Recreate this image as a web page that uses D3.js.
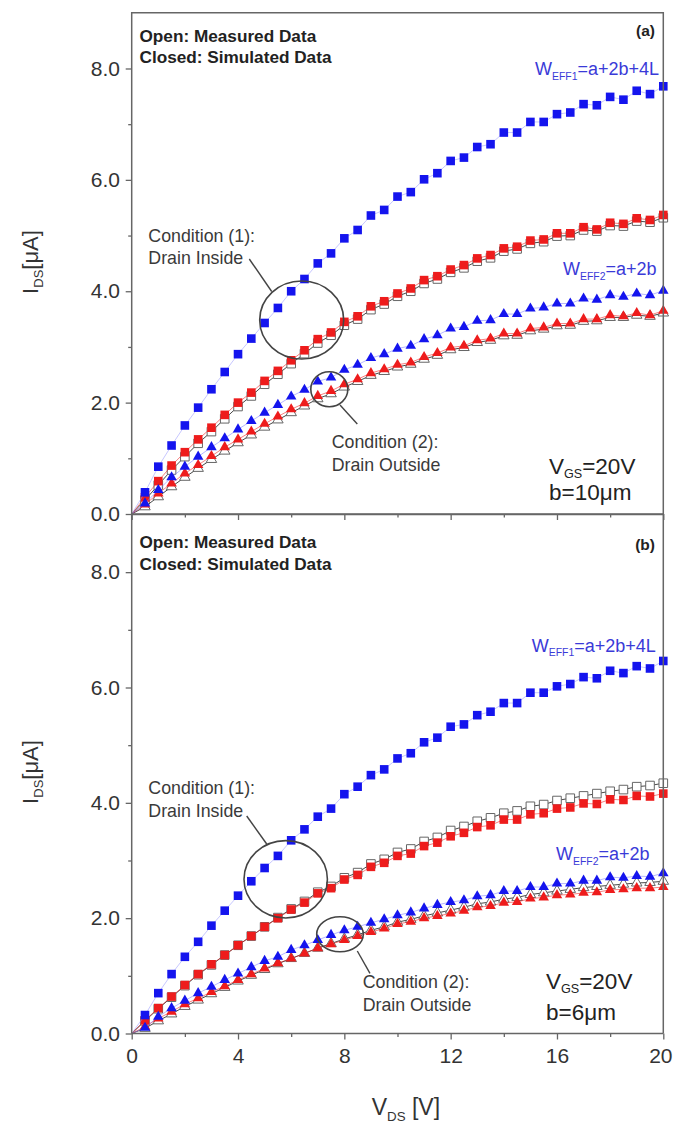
<!DOCTYPE html>
<html><head><meta charset="utf-8">
<script src="https://cdn.jsdelivr.net/npm/d3@7"></script>
<style>body{margin:0;background:#fff}svg{display:block}text{font-family:"Liberation Sans",Arial,sans-serif}</style>
</head><body>
<svg id="c" width="673" height="1138"></svg>
<script>
// ---- data ----
const vds = [0,0.5,1,1.5,2,2.5,3,3.5,4,4.5,5,5.5,6,6.5,7,7.5,8,8.5,9,9.5,10,10.5,11,11.5,12,12.5,13,13.5,14,14.5,15,15.5,16,16.5,17,17.5,18,18.5,19,19.5,20];
const xTicks = [0,4,8,12,16,20];
const yTicks = [0,2,4,6,8];

// panel (a) b=10um
const aSqBlue = [0,0.39,0.85,1.23,1.59,1.91,2.24,2.55,2.87,3.15,3.43,3.70,4.00,4.22,4.50,4.68,4.95,5.10,5.36,5.46,5.70,5.78,6.01,6.12,6.34,6.40,6.59,6.64,6.85,6.85,7.04,7.04,7.18,7.21,7.36,7.34,7.49,7.44,7.60,7.54,7.68];
const aSqRed  = [0,0.30,0.59,0.87,1.11,1.34,1.55,1.78,2.00,2.18,2.39,2.57,2.76,2.94,3.14,3.26,3.45,3.55,3.73,3.82,3.96,4.05,4.20,4.27,4.39,4.47,4.59,4.65,4.77,4.80,4.91,4.93,5.04,5.04,5.15,5.11,5.23,5.21,5.31,5.28,5.37];
const aSqMeas = [0,0.25,0.52,0.79,1.03,1.27,1.48,1.71,1.93,2.12,2.33,2.51,2.70,2.88,3.07,3.21,3.39,3.50,3.67,3.77,3.91,4.00,4.14,4.22,4.34,4.42,4.54,4.60,4.72,4.76,4.86,4.89,4.99,5.00,5.10,5.08,5.18,5.17,5.26,5.24,5.32];
const aTriBlue = [0,0.19,0.43,0.66,0.85,1.03,1.20,1.36,1.52,1.67,1.82,1.96,2.11,2.23,2.38,2.45,2.59,2.68,2.80,2.87,2.97,3.02,3.14,3.21,3.33,3.36,3.47,3.48,3.59,3.59,3.69,3.71,3.78,3.78,3.87,3.85,3.93,3.90,3.96,3.93,4.01];
const aTriRed  = [0,0.17,0.37,0.55,0.73,0.88,1.04,1.20,1.34,1.48,1.62,1.75,1.88,1.99,2.12,2.21,2.33,2.42,2.53,2.60,2.68,2.72,2.82,2.89,2.99,3.02,3.12,3.15,3.24,3.24,3.33,3.35,3.42,3.42,3.50,3.50,3.57,3.55,3.61,3.57,3.65];
const aTriMeas = [0,0.13,0.31,0.49,0.66,0.82,0.98,1.13,1.28,1.42,1.56,1.69,1.82,1.94,2.07,2.16,2.28,2.38,2.49,2.56,2.64,2.69,2.78,2.85,2.95,2.99,3.08,3.12,3.20,3.21,3.29,3.32,3.38,3.39,3.46,3.47,3.53,3.53,3.57,3.55,3.61];

// panel (b) b=6um
const bSqBlue = [0,0.32,0.70,1.03,1.33,1.59,1.87,2.13,2.39,2.64,2.87,3.08,3.35,3.54,3.76,3.90,4.15,4.28,4.48,4.58,4.77,4.86,5.05,5.13,5.32,5.36,5.52,5.58,5.73,5.73,5.91,5.91,6.02,6.06,6.18,6.16,6.29,6.25,6.37,6.33,6.46];
const bSqRed  = [0,0.23,0.44,0.64,0.84,1.03,1.20,1.36,1.53,1.69,1.85,2.00,2.15,2.27,2.43,2.52,2.67,2.75,2.89,2.96,3.08,3.12,3.25,3.31,3.42,3.48,3.58,3.61,3.71,3.71,3.80,3.82,3.90,3.92,3.99,3.98,4.06,4.05,4.12,4.11,4.16];
const bSqMeas = [0,0.22,0.43,0.63,0.83,1.02,1.19,1.36,1.53,1.69,1.85,2.01,2.16,2.29,2.45,2.55,2.70,2.79,2.94,3.02,3.14,3.20,3.33,3.40,3.52,3.59,3.68,3.74,3.82,3.86,3.94,3.97,4.04,4.08,4.12,4.16,4.20,4.23,4.28,4.30,4.34];
const bTriBlue = [0,0.10,0.29,0.44,0.57,0.70,0.81,0.93,1.04,1.15,1.26,1.33,1.45,1.53,1.62,1.71,1.79,1.85,1.92,1.98,2.05,2.10,2.17,2.23,2.28,2.31,2.38,2.40,2.47,2.47,2.54,2.54,2.60,2.60,2.65,2.65,2.71,2.70,2.73,2.72,2.78];
const bTriRed  = [0,0.12,0.26,0.38,0.51,0.61,0.72,0.82,0.93,1.03,1.13,1.22,1.30,1.39,1.48,1.55,1.62,1.69,1.76,1.82,1.90,1.94,2.00,2.04,2.08,2.13,2.19,2.21,2.27,2.28,2.34,2.36,2.40,2.41,2.44,2.45,2.49,2.50,2.52,2.52,2.54];
const bTriMeas = [0,0.09,0.22,0.34,0.47,0.58,0.69,0.80,0.91,1.01,1.11,1.21,1.30,1.39,1.48,1.56,1.64,1.71,1.79,1.85,1.93,1.98,2.04,2.09,2.14,2.19,2.25,2.28,2.33,2.36,2.41,2.44,2.47,2.50,2.53,2.55,2.57,2.59,2.61,2.62,2.64];

// ---- drawing ----
const svg = d3.select("#c");
svg.append("rect").attr("width",673).attr("height",1138).attr("fill","#fff");
const FONT = '"Liberation Sans",Arial,sans-serif';
const AX = "#666", TXT = "#333", BLUE = "#1414ee", RED = "#ee1c1c", LBLUE = "#3a3ad8";
const x = d3.scaleLinear().domain([0,20]).range([131.7,663.3]);

const panels = [
  {y: d3.scaleLinear().domain([0,9]).range([514,12.8]), top:12.8, bottom:514, showX:false,
   sqB:aSqBlue, sqR:aSqRed, sqM:aSqMeas, trB:aTriBlue, trR:aTriRed, trM:aTriMeas,
   tag:"(a)", tagY:36, legY:41.7, w1:[535,75], w2:[563,275], bText:"b=10\u03bcm", vgs:[549,474], bY:499.5,
   c1:{cx:301.7,cy:320,rx:42,ry:39,p:[[249.3,259],[271.7,291.5]],tx:148.3,ty:241.7},
   c2:{cx:329.3,cy:389.3,rx:18.5,ry:17.5,p:[[340,405],[357.3,424]],tx:331.7,ty:448}, titleY:262},
  {y: d3.scaleLinear().domain([0,9]).range([1033.5,514.5]), top:514.5, bottom:1033.5, showX:true,
   sqB:bSqBlue, sqR:bSqRed, sqM:bSqMeas, trB:bTriBlue, trR:bTriRed, trM:bTriMeas,
   tag:"(b)", tagY:550, legY:548.3, w1:[531.7,651.7], w2:[556,860], bText:"b=6\u03bcm", vgs:[546,989], bY:1020,
   c1:{cx:285.7,cy:879.3,rx:41.7,ry:38.7,p:[[246.7,816],[266.7,844]],tx:148.3,ty:794},
   c2:{cx:340,cy:934.2,rx:23.3,ry:17.5,p:[[357.3,951],[370,973.3]],tx:362.7,ty:988.3}, titleY:772}
];

const sq = d3.symbol().type(d3.symbolSquare).size(74);
const tri = d3.symbol().type(d3.symbolTriangle).size(48);

function series(g, y, vals, opts){
  const pts = vds.map((v,i)=>[v, vals[i]]);
  const line = d3.line().x(d=>x(d[0])).y(d=>y(d[1]));
  g.append("path").attr("d", line(pts)).attr("fill","none")
    .attr("stroke", opts.line).attr("stroke-width", opts.lw||0.9).attr("opacity", opts.lo||1);
  g.selectAll(null).data(pts.slice(1)).enter().append("path")
    .attr("d", opts.sym)
    .attr("transform", d=>`translate(${x(d[0])},${y(d[1])})`)
    .attr("fill", opts.fill).attr("stroke", opts.stroke||"none").attr("stroke-width", opts.sw||0);
}

function subText(g, xx, yy, parts, size, fill, anchor, subScale, subDy){
  const t = g.append("text").attr("x",xx).attr("y",yy).attr("fill",fill)
    .attr("font-size",size).attr("text-anchor",anchor||"start");
  const sd = subDy || size*0.25;
  parts.forEach(p=>{
    const s = t.append("tspan").text(p.t);
    if(p.sub){ s.attr("font-size", size*(subScale||0.58)).attr("dy", sd); }
    else if(p.after){ s.attr("dy", -sd); }
  });
  return t;
}

panels.forEach(P=>{
  const y = P.y;
  const g = svg.append("g");
  // data: measured (open) first, then simulated (closed)
  series(g, y, P.sqM, {sym:sq, fill:"#fff", stroke:"#666", sw:1, line:"#333", lw:0.9});
  series(g, y, P.trM, {sym:tri, fill:"#fff", stroke:"#666", sw:1, line:"#333", lw:0.9});
  series(g, y, P.trR, {sym:tri, fill:RED, line:RED, lw:0.8, lo:0.7});
  series(g, y, P.sqR, {sym:sq, fill:RED, line:RED, lw:0.8, lo:0.7});
  series(g, y, P.trB, {sym:tri, fill:BLUE, line:"#7d7dff", lw:0.8, lo:0.7});
  series(g, y, P.sqB, {sym:sq, fill:BLUE, line:"#9a9aff", lw:0.8, lo:0.7});

  // frame
  svg.append("path").attr("d",`M${x(0)},${P.bottom}V${P.top}H${x(20)}V${P.bottom}`)
    .attr("fill","none").attr("stroke",AX).attr("stroke-width",1.5);
  svg.append("line").attr("x1",x(0)).attr("x2",x(20)).attr("y1",P.bottom).attr("y2",P.bottom)
    .attr("stroke",AX).attr("stroke-width",1.5);

  // y axis
  const ya = svg.append("g").attr("transform",`translate(${x(0)},0)`)
    .call(d3.axisLeft(y).tickValues(yTicks).tickFormat(d3.format(".1f")).tickSize(6).tickSizeOuter(0).tickPadding(5.7));
  const ym = svg.append("g").attr("transform",`translate(${x(0)},0)`)
    .call(d3.axisLeft(y).tickValues([1,3,5,7]).tickFormat("").tickSize(3.5).tickSizeOuter(0));
  // x axis
  const xa = svg.append("g").attr("transform",`translate(0,${P.bottom})`)
    .call(d3.axisBottom(x).tickValues(xTicks).tickFormat(P.showX? d3.format("d") : "").tickSize(6).tickSizeOuter(0).tickPadding(9));
  const xm = svg.append("g").attr("transform",`translate(0,${P.bottom})`)
    .call(d3.axisBottom(x).tickValues([2,6,10,14,18]).tickFormat("").tickSize(3.5).tickSizeOuter(0));
  [ya,ym,xa,xm].forEach(a=>{
    a.select(".domain").remove();
    a.selectAll("line").attr("stroke",AX).attr("stroke-width",1.3);
    a.selectAll("text").attr("font-family",FONT).attr("font-size",21).attr("fill",TXT);
  });
  // keep the last x label inside the page
  xa.selectAll(".tick").filter(d=>d===20).select("text")
    .attr("text-anchor","end").attr("x",672 - x(20));

  // y title
  const yt = svg.append("text").attr("transform",`translate(37.5,${P.titleY}) rotate(-90)`)
    .attr("text-anchor","middle").attr("font-size",22).attr("fill",TXT);
  yt.append("tspan").text("I");
  yt.append("tspan").text("DS").attr("font-size",13).attr("dy",5);
  yt.append("tspan").text("[\u03bcA]").attr("dy",-5);

  // legend text
  svg.append("text").attr("x",139.5).attr("y",P.legY).attr("font-size",17.2).attr("font-weight","bold")
    .attr("fill","#222").text("Open: Measured Data");
  svg.append("text").attr("x",139.5).attr("y",P.legY+21.6).attr("font-size",17.2).attr("font-weight","bold")
    .attr("fill","#222").text("Closed: Simulated Data");
  svg.append("text").attr("x",655).attr("y",P.tagY).attr("text-anchor","end").attr("font-size",15.5)
    .attr("font-weight","bold").attr("fill","#222").text(P.tag);

  // W_EFF labels
  subText(svg, P.w1[0], P.w1[1], [{t:"W"},{t:"EFF1",sub:true},{t:"=a+2b+4L",after:true}], 18, LBLUE);
  subText(svg, P.w2[0], P.w2[1], [{t:"W"},{t:"EFF2",sub:true},{t:"=a+2b",after:true}], 18, LBLUE);

  // V_GS, b
  subText(svg, P.vgs[0], P.vgs[1], [{t:"V"},{t:"GS",sub:true},{t:"=20V",after:true}], 22.5, "#222", "start", 0.56, 4);
  svg.append("text").attr("x",P.vgs[0]).attr("y",P.bY).attr("font-size",22.5).attr("fill","#222").text(P.bText);

  // condition annotations
  [[P.c1,"Condition (1):","Drain Inside"],[P.c2,"Condition (2):","Drain Outside"]].forEach(([c,l1,l2])=>{
    svg.append("ellipse").attr("cx",c.cx).attr("cy",c.cy).attr("rx",c.rx).attr("ry",c.ry)
      .attr("fill","none").attr("stroke","#444").attr("stroke-width",1.6);
    svg.append("line").attr("x1",c.p[0][0]).attr("y1",c.p[0][1]).attr("x2",c.p[1][0]).attr("y2",c.p[1][1])
      .attr("stroke","#444").attr("stroke-width",1.4);
    svg.append("text").attr("x",c.tx).attr("y",c.ty).attr("font-size",17.8).attr("fill","#3a3a3a").text(l1);
    svg.append("text").attr("x",c.tx).attr("y",c.ty+22.5).attr("font-size",17.8).attr("fill","#3a3a3a").text(l2);
  });
});

// x title
subText(svg, 371.7, 1115, [{t:"V"},{t:"DS",sub:true},{t:" [V]",after:true}], 23, TXT);
</script>
</body></html>
